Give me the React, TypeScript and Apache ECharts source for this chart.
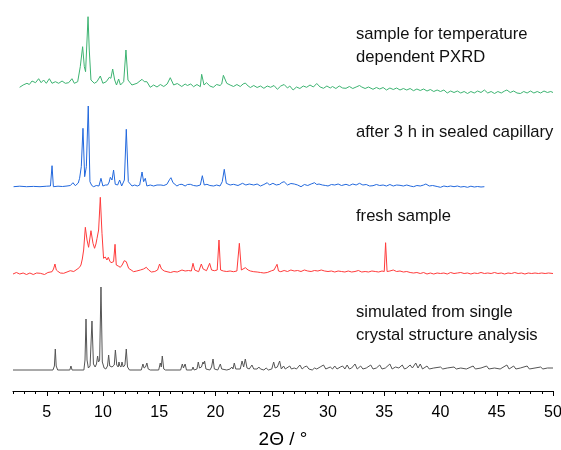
import React, { useEffect, useRef } from "react";
import * as echarts from "echarts";

// 2θ tick values
const majorTicks = [5, 10, 15, 20, 25, 30, 35, 40, 45, 50];
const minorTicks = [
  2, 3, 4, 6, 7, 8, 9, 11, 12, 13, 14, 16, 17, 18, 19, 21, 22, 23, 24, 26, 27, 28, 29,
  31, 32, 33, 34, 36, 37, 38, 39, 41, 42, 43, 44, 46, 47, 48, 49,
];

// vertical offsets of the stacked patterns (a.u.)
const offsets = { simulated: 21, fresh: 116, capillary: 203, temperature: 298 };

// sample for temperature dependent PXRD  [2θ, intensity]
const temperatureData: number[][] = [
  [2.59, 5.7], [2.9, 8], [3.24, 9.7], [3.45, 8.5], [3.69, 12], [4.0, 10.3], [4.28, 14.3], [4.5, 10.3],
  [4.72, 13], [4.96, 9.7], [5.23, 14.3], [5.47, 9.7], [5.77, 11.3], [6.06, 9.7], [6.36, 12], [6.65, 9.7],
  [6.95, 10.3], [7.24, 14.3], [7.45, 9.7], [7.75, 11.3], [7.98, 26.3], [8.19, 46.3], [8.34, 26.3],
  [8.45, 21.3], [8.58, 53], [8.67, 76.3], [8.78, 43], [8.93, 13], [9.23, 9.7], [9.46, 11.3], [9.76, 17],
  [9.99, 9.7], [10.29, 11.3], [10.56, 15.7], [10.7, 14.7], [10.86, 24], [11.04, 13], [11.2, 8],
  [11.39, 14], [11.55, 8], [11.84, 11.3], [12.04, 43], [12.22, 13], [12.57, 8], [13.02, 9.7],
  [13.47, 13.7], [13.67, 11.3], [13.9, 11.3], [14.2, 5.7], [14.5, 8], [14.8, 6], [15.1, 8.5],
  [15.4, 6.5], [15.7, 9], [15.98, 15.3], [16.28, 8], [16.6, 9.5], [17.0, 6.5], [17.3, 9], [17.5, 7.5],
  [17.8, 9], [18.05, 6.3], [18.35, 8.5], [18.65, 6.3], [18.77, 18.7], [18.98, 8], [19.2, 10.3],
  [19.5, 7], [19.8, 5.7], [20.1, 8.5], [20.4, 7.5], [20.55, 9], [20.7, 17.7], [21.0, 9.7], [21.3, 8],
  [21.6, 6.5], [21.9, 8.5], [22.2, 6.5], [22.45, 9], [22.65, 10], [22.9, 7], [23.1, 5.5], [23.4, 7.5],
  [23.7, 5.5], [24.0, 7], [24.3, 4.7], [24.6, 7], [24.9, 5.7], [25.2, 7.5], [25.5, 3.7], [25.8, 7],
  [26.1, 8.5], [26.4, 5], [26.6, 7], [26.9, 3], [27.2, 6], [27.5, 4.5], [27.8, 7], [28.1, 5.7],
  [28.4, 8], [28.7, 6], [29.0, 9.5], [29.3, 6], [29.6, 4.7], [29.9, 7], [30.2, 5], [30.4, 6.5],
  [30.7, 4.5], [31.0, 7], [31.3, 5], [31.6, 4.7], [31.9, 6.5], [32.2, 4.5], [32.5, 6], [32.8, 7.5],
  [33.0, 6], [33.3, 4.5], [33.6, 6], [34.0, 3.7], [34.3, 5.5], [34.6, 4], [34.9, 5.5], [35.2, 3],
  [35.5, 5], [35.8, 3.5], [36.1, 5], [36.4, 3], [36.7, 4.5], [37.0, 3], [37.3, 4.5], [37.6, 2.3],
  [37.9, 4], [38.2, 2.5], [38.5, 4], [38.8, 2], [39.1, 3.5], [39.4, 1.5], [39.7, 3], [40.0, 1.5],
  [40.3, 3], [40.6, 0], [40.9, 2], [41.2, 0.5], [41.5, 2], [41.8, 0], [42.1, 1.5], [42.4, -0.5],
  [42.7, 1.5], [43.0, 0], [43.3, 2], [43.6, 0.5], [43.9, 3], [44.2, 0], [44.5, 1.5], [44.8, -0.5],
  [45.1, 1.5], [45.4, 0], [45.7, 2], [45.9, 3], [46.2, 0.5], [46.5, 2], [46.8, 0], [47.1, -0.5],
  [47.4, 1.5], [47.7, 0], [48.0, 2], [48.3, 0], [48.6, 1.5], [48.9, 0], [49.2, 2], [49.5, 0.5],
  [49.8, 1.5], [50.0, 0.5],
];

// after 3 h in sealed capillary
const capillaryData: number[][] = [
  [2.05, 1.3], [2.6, 1.8], [3.2, 1.3], [3.83, 1.6], [4.4, 1.3], [5.0, 1.8], [5.33, 2], [5.47, 22.3],
  [5.59, 1.3], [6.0, 1.8], [6.4, 1.5], [6.8, 2], [7.1, 2.5], [7.33, 5.3], [7.54, 2.3], [7.8, 5],
  [7.92, 9.7], [8.07, 21.3], [8.22, 59.7], [8.37, 11.3], [8.52, 21.3], [8.69, 82], [8.84, 6.3],
  [9.0, 2.5], [9.17, 1.3], [9.4, 2.5], [9.64, 2], [9.82, 9.7], [9.99, 2], [10.2, 3], [10.41, 3],
  [10.55, 6], [10.65, 10.7], [10.8, 8], [10.94, 18], [11.09, 3.7], [11.3, 3], [11.48, 8], [11.66, 2],
  [11.9, 8], [12.07, 58.7], [12.25, 6.3], [12.58, 2], [12.82, 3], [13.05, 2], [13.26, 3], [13.47, 16],
  [13.61, 6.3], [13.76, 9.7], [13.9, 2], [14.2, 3], [14.5, 2], [14.8, 3], [15.15, 3], [15.4, 2.5],
  [15.68, 3.7], [15.93, 8.7], [16.04, 10.3], [16.22, 5.3], [16.57, 2], [16.8, 3.5], [17.02, 3.7],
  [17.3, 2], [17.5, 3.5], [17.76, 3.7], [18.05, 2.5], [18.35, 2], [18.65, 3], [18.83, 12.3], [19.0, 3],
  [19.24, 3.7], [19.5, 2.5], [19.84, 2], [20.1, 3], [20.4, 2], [20.6, 6.3], [20.78, 18.7], [20.96, 4.7],
  [21.3, 3], [21.6, 3.7], [22.0, 2.5], [22.4, 4.7], [22.7, 3], [23.0, 4], [23.4, 3], [23.7, 4], [24.0, 2],
  [24.3, 3.5], [24.6, 5.3], [24.8, 3], [25.1, 4.7], [25.4, 3], [25.7, 3.7], [25.9, 5.5], [26.1, 6.3],
  [26.4, 3], [26.7, 4.5], [27.0, 4], [27.3, 3], [27.6, 1.3], [27.9, 3.5], [28.2, 2.5], [28.5, 4],
  [28.8, 5.3], [29.0, 3.5], [29.2, 4], [29.5, 3], [29.8, 2.5], [30.0, 2], [30.3, 3.5], [30.6, 3],
  [30.9, 4], [31.2, 2.5], [31.6, 3.7], [31.9, 2.5], [32.2, 4], [32.5, 3], [32.8, 4.7], [33.1, 3],
  [33.4, 3.5], [33.7, 2], [34.0, 2.3], [34.3, 3.5], [34.6, 2.5], [34.9, 3], [35.2, 2], [35.5, 3.5],
  [35.8, 2], [36.1, 3], [36.4, 2.7], [36.7, 2], [37.0, 3], [37.3, 2], [37.6, 1.3], [37.9, 2.5],
  [38.2, 2], [38.5, 3], [38.7, 4], [39.0, 2], [39.3, 2.5], [39.7, 1.5], [40.0, 0.7], [40.3, 2],
  [40.6, 1.3], [40.9, 2], [41.2, 1.3], [41.5, 2], [41.8, 1], [42.1, 1.5], [42.4, 0.7], [42.7, 1.8],
  [43.0, 1], [43.3, 1.5], [43.6, 1], [43.9, 1.3],
];

// fresh sample
const freshData: number[][] = [
  [2.0, 1], [2.3, 2.5], [2.6, 1], [2.9, 2], [3.2, 0.5], [3.5, 2], [3.8, 0.5], [4.1, 2], [4.43, 1.7],
  [4.8, 0.5], [5.1, 2.5], [5.47, 3.3], [5.6, 6], [5.73, 11], [5.85, 5], [5.95, 4], [6.2, 2], [6.5, 1.7],
  [6.8, 3], [7.09, 4.3], [7.4, 3.5], [7.69, 5.7], [7.9, 7.5], [8.04, 10], [8.16, 16], [8.28, 25],
  [8.43, 47.7], [8.58, 35], [8.72, 27.7], [8.93, 44.3], [9.11, 31.7], [9.25, 26.7], [9.37, 31],
  [9.47, 36.7], [9.61, 45], [9.76, 77.7], [9.91, 41.7], [10.05, 16.7], [10.2, 18], [10.35, 15],
  [10.47, 17.7], [10.6, 14], [10.71, 12.3], [10.94, 13.3], [11.07, 30.7], [11.18, 10], [11.35, 9],
  [11.54, 7.7], [11.7, 10], [11.89, 14.3], [12.07, 13.3], [12.28, 6.7], [12.5, 5], [12.72, 3.3],
  [13.0, 4], [13.32, 5], [13.6, 6], [13.85, 7.7], [14.06, 5], [14.3, 3], [14.6, 3.5], [14.85, 5],
  [15.03, 11], [15.2, 6], [15.45, 4], [15.69, 3.3], [16.0, 2.5], [16.3, 3.5], [16.6, 3], [17.02, 5],
  [17.3, 4], [17.6, 4.5], [17.85, 4], [18.0, 11.7], [18.15, 5], [18.5, 3.3], [18.74, 11], [18.9, 6],
  [19.2, 4.3], [19.48, 11.7], [19.65, 5], [19.9, 4.3], [20.15, 5], [20.31, 35], [20.45, 5], [20.7, 4],
  [21.0, 3.5], [21.3, 4], [21.6, 3.3], [21.9, 4], [22.12, 31.7], [22.3, 5], [22.65, 7.3], [22.9, 5],
  [23.1, 4], [23.4, 3.3], [23.7, 3], [24.0, 2.5], [24.3, 2], [24.6, 2.5], [25.0, 4.3], [25.2, 5],
  [25.47, 10.7], [25.6, 4], [25.8, 3.3], [26.1, 4.5], [26.4, 3.5], [26.7, 5], [27.0, 4], [27.3, 4.5],
  [27.6, 3.5], [27.9, 5], [28.2, 4], [28.5, 3.5], [28.8, 4.5], [29.1, 4], [29.4, 5], [29.7, 4],
  [30.0, 3.5], [30.3, 4], [30.6, 3], [30.9, 4], [31.2, 3.5], [31.5, 3], [31.8, 4], [32.1, 3],
  [32.4, 3.5], [32.7, 4.5], [33.0, 3], [33.3, 3.5], [33.6, 3], [33.9, 4], [34.2, 3.5], [34.5, 3],
  [34.8, 4], [35.0, 3.5], [35.12, 32.3], [35.25, 3.5], [35.5, 4], [35.8, 5], [36.1, 3.5], [36.4, 4],
  [36.7, 3], [37.0, 3.5], [37.3, 2.5], [37.6, 2], [37.9, 2.5], [38.2, 1.5], [38.5, 2.5], [38.8, 1],
  [39.1, 2], [39.4, 1], [39.7, 2], [40.0, 1.5], [40.3, 2], [40.6, 1], [40.9, 2.5], [41.2, 1.5],
  [41.5, 2], [41.8, 2.5], [42.1, 1.5], [42.4, 2], [42.7, 1], [43.0, 2], [43.3, 1.5], [43.6, 2.5],
  [43.9, 1.5], [44.2, 2], [44.5, 1.5], [44.8, 2.5], [45.1, 1.5], [45.4, 2], [45.7, 1], [46.0, 2],
  [46.3, 1.5], [46.6, 2.5], [46.9, 1.5], [47.2, 2], [47.5, 1], [47.8, 2], [48.1, 1.5], [48.4, 2],
  [48.7, 1.5], [49.0, 2], [49.3, 1.5], [49.6, 2], [50.0, 1.5],
];

// simulated from single crystal structure analysis
const simulatedData: number[][] = [
  [2.0, 0], [5.55, 0], [5.68, 4], [5.76, 21], [5.84, 4], [5.97, 0], [7.05, 0], [7.15, 4], [7.25, 0],
  [8.3, 0], [8.4, 10], [8.49, 51], [8.58, 10], [8.7, 2], [8.85, 4], [9.02, 49], [9.15, 6], [9.3, 3],
  [9.42, 6], [9.52, 14], [9.6, 8], [9.7, 10], [9.82, 83], [9.94, 8], [10.1, 2], [10.25, 1], [10.4, 4],
  [10.5, 15], [10.6, 4], [10.8, 3], [11.0, 5], [11.1, 20], [11.22, 5], [11.35, 3], [11.42, 8],
  [11.5, 4], [11.6, 3], [11.69, 8], [11.8, 3], [11.95, 5], [12.07, 21], [12.18, 3], [12.35, 0],
  [13.4, 0], [13.55, 6], [13.65, 2], [13.78, 3], [13.9, 7], [14.02, 1], [14.2, 0], [14.95, 0],
  [15.09, 7], [15.18, 3], [15.27, 14], [15.4, 1], [15.55, 0], [16.9, 0], [17.05, 6], [17.15, 2],
  [17.3, 6], [17.42, 0], [17.9, 0], [18.0, 3], [18.1, 0], [18.35, 1], [18.47, 8], [18.58, 2],
  [18.75, 3], [18.89, 8], [18.96, 6], [19.03, 9], [19.15, 1], [19.5, 0], [19.65, 3], [19.78, 11],
  [19.9, 1], [20.2, 0], [20.43, 6], [20.55, 1], [21.0, 0], [21.3, 1], [21.45, 3], [21.55, 1],
  [21.67, 7], [21.8, 1], [22.2, 1], [22.36, 9], [22.5, 3], [22.65, 11], [22.8, 2], [23.0, 1],
  [23.24, 5], [23.4, 1], [23.7, 1], [23.85, 3], [24.0, 1], [24.3, 0], [24.5, 2], [24.7, 0], [25.0, 1],
  [25.17, 8], [25.3, 2], [25.5, 3], [25.7, 9], [25.85, 1], [26.05, 4], [26.2, 1], [26.6, 4],
  [26.75, 1], [27.0, 2], [27.2, 1], [27.5, 5], [27.7, 1], [27.9, 3], [28.1, 4], [28.3, 1], [28.6, 0],
  [28.8, 2], [29.0, 1], [29.3, 3], [29.6, 5], [29.8, 1], [30.2, 3], [30.4, 1], [30.6, 4], [30.8, 1],
  [31.1, 3], [31.3, 4], [31.5, 1], [31.7, 5], [31.9, 1], [32.1, 2], [32.4, 6], [32.6, 1], [32.9, 4],
  [33.1, 1], [33.4, 2], [33.8, 5], [34.0, 1], [34.3, 2], [34.6, 5], [34.8, 1], [35.1, 2], [35.5, 6],
  [35.7, 1], [36.0, 3], [36.3, 2], [36.6, 5], [36.8, 1], [37.0, 2], [37.3, 5], [37.5, 2], [37.8, 7],
  [38.0, 2], [38.2, 6], [38.4, 1], [38.8, 4], [39.0, 1], [39.4, 2], [40.0, 3], [40.2, 1], [40.6, 2],
  [41.2, 3], [41.4, 1], [41.8, 2], [42.3, 1], [42.9, 4], [43.1, 1], [43.6, 2], [44.1, 4], [44.3, 1],
  [44.8, 2], [45.3, 1], [45.9, 5], [46.1, 1], [46.5, 4], [46.7, 1], [47.1, 2], [47.7, 4], [47.9, 1],
  [48.4, 2], [48.9, 3], [49.1, 1], [49.5, 2], [50.0, 2],
];

const annotations = [
  { lines: ["sample for temperature", "dependent PXRD"], y: 33 },
  { lines: ["after 3 h in sealed capillary"], y: 131 },
  { lines: ["fresh sample"], y: 215 },
  { lines: ["simulated from single", "crystal structure analysis"], y: 311.7 },
];

const FONT = "Liberation Sans, Arial, sans-serif";

export default function App() {
  const ref = useRef<HTMLDivElement>(null);
  useEffect(() => {
    if (!ref.current) return;
    const chart = echarts.init(ref.current, undefined, { renderer: "svg" });
    const shift = (d: number[][], off: number) => d.map(([x, y]) => [x, y + off]);
    const mk = (name: string, d: number[][], off: number, color: string) => ({
      name,
      type: "line",
      xAxisIndex: 0,
      data: shift(d, off),
      showSymbol: false,
      symbol: "none",
      lineStyle: { color, width: 1 },
      silent: true,
    });
    const graphics: any[] = [];
    annotations.forEach((a) => {
      a.lines.forEach((t, i) => {
        graphics.push({
          type: "text",
          x: 356,
          y: a.y + i * 23,
          style: {
            text: t,
            fill: "#111",
            font: `16.6px ${FONT}`,
            verticalAlign: "middle",
            align: "left",
          },
        });
      });
    });
    chart.setOption({
      animation: false,
      grid: { left: 13, right: 8, top: 0, bottom: 59, outerBoundsMode: "none", containLabel: false },
      xAxis: [
        {
          type: "value",
          min: 2,
          max: 50,
          position: "bottom",
          axisLine: { show: true, lineStyle: { color: "#000", width: 1 } },
          axisTick: { show: true, customValues: majorTicks, length: 5, inside: false, lineStyle: { color: "#000" } },
          axisLabel: { customValues: majorTicks, fontSize: 16, color: "#000", margin: 12, fontFamily: FONT },
          splitLine: { show: false },
          name: "2Θ / °",
          nameLocation: "middle",
          nameGap: 38,
          nameTextStyle: { fontSize: 19, color: "#000", fontFamily: FONT },
        },
        {
          type: "value",
          min: 2,
          max: 50,
          position: "bottom",
          axisLine: { show: false },
          axisTick: { show: true, customValues: minorTicks, length: 3, inside: false, lineStyle: { color: "#000" } },
          axisLabel: { show: false },
          splitLine: { show: false },
        },
      ],
      yAxis: { type: "value", min: 0, max: 391, show: false },
      series: [
        mk("simulated", simulatedData, offsets.simulated, "#555555"),
        mk("fresh", freshData, offsets.fresh, "#ff3b3b"),
        mk("capillary", capillaryData, offsets.capillary, "#2268dd"),
        mk("temperature", temperatureData, offsets.temperature, "#3cb371"),
      ],
      graphic: graphics,
    });
    return () => chart.dispose();
  }, []);
  return (
    <div
      ref={ref}
      style={{ position: "fixed", left: 0, top: 0, width: 561, height: 450 }}
    />
  );
}
